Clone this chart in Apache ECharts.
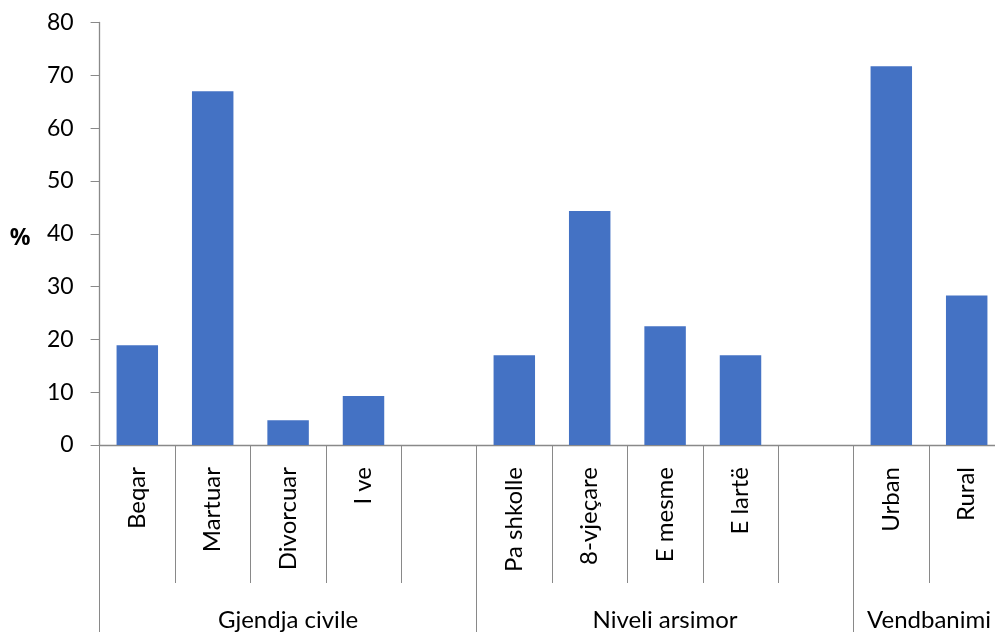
<!DOCTYPE html>
<html>
<head>
<meta charset="utf-8">
<script src="https://cdn.jsdelivr.net/npm/echarts@6/dist/echarts.min.js"></script>
<style>
  html, body { margin: 0; padding: 0; background: #ffffff; }
  #chart { width: 995px; height: 632px; }
</style>
</head>
<body>
<div id="chart"></div>
<script>
// Category slots (empty strings are spacer slots between groups)
const categories = ['Beqar', 'Martuar', 'Divorcuar', 'I ve', '',
                    'Pa shkolle', '8-vjeçare', 'E mesme', 'E lartë', '',
                    'Urban', 'Rural'];
// Share of respondents, %
const values = [18.9, 67.0, 4.7, 9.3, null,
                17.0, 44.3, 22.5, 17.0, null,
                71.7, 28.3];
// Outer grouping of the category slots
const groupNames = ['Gjendja civile', 'Niveli arsimor', 'Vendbanimi'];
const groupSizes = [5, 5, 2];
// Value axis ticks
const yMin = 0, yMax = 80, yStep = 10;

// Group axis runs on half-slot points: boundaries fall on even indices,
// group centres on (start + size / 2) * 2.
const halfSlots = [];
for (let i = 0; i <= categories.length * 2; i++) halfSlots.push('');
const groupTickIdx = new Set();
const groupLabelIdx = new Set();
let start = 0;
groupNames.forEach((name, g) => {
  groupTickIdx.add(start * 2);
  const c = start * 2 + groupSizes[g];
  halfSlots[c] = name;
  groupLabelIdx.add(c);
  start += groupSizes[g];
});
groupTickIdx.add(start * 2);

const axisGrey = '#898989';
const font = 'Lato, "Noto Sans", sans-serif';

const chart = echarts.init(document.getElementById('chart'), null, { renderer: 'canvas' });
chart.setOption({
  animation: false,
  backgroundColor: '#ffffff',
  grid: {
    left: 99.6, top: 22.5, width: 904.8, height: 422.5,
    containLabel: false, outerBoundsMode: 'none'
  },
  xAxis: [
    {
      type: 'category',
      data: categories,
      position: 'bottom',
      boundaryGap: true,
      axisLine: { show: true, lineStyle: { color: axisGrey, width: 1.3 } },
      axisTick: { show: true, interval: 0, length: 138, lineStyle: { color: axisGrey, width: 1 } },
      axisLabel: {
        interval: 0, rotate: 90, margin: 22,
        color: '#000000', fontFamily: font, fontSize: 24
      },
      splitLine: { show: false }
    },
    {
      type: 'category',
      data: halfSlots,
      position: 'bottom',
      boundaryGap: false,
      axisLine: { show: false },
      axisTick: {
        show: true, length: 200,
        interval: (i) => groupTickIdx.has(i),
        lineStyle: { color: axisGrey, width: 1 }
      },
      axisLabel: {
        show: true, margin: 163,
        interval: (i) => groupLabelIdx.has(i),
        color: '#000000', fontFamily: font, fontSize: 24
      },
      splitLine: { show: false }
    }
  ],
  yAxis: {
    type: 'value',
    min: yMin, max: yMax, interval: yStep,
    name: '%',
    nameLocation: 'middle',
    nameRotate: 0,
    nameGap: 69,
    nameTextStyle: {
      color: '#000000', fontFamily: '"Noto Sans", "DejaVu Sans", sans-serif',
      fontSize: 23, fontWeight: 'bold', verticalAlign: 'top', lineHeight: 10
    },
    axisLine: { show: true, lineStyle: { color: axisGrey, width: 1.3 } },
    axisTick: { show: true, length: 9, lineStyle: { color: axisGrey } },
    axisLabel: { margin: 26, color: '#000000', fontFamily: font, fontSize: 23 },
    splitLine: { show: false }
  },
  series: [{
    type: 'bar',
    xAxisIndex: 0,
    data: values,
    barWidth: '55%',
    itemStyle: { color: '#4472C4' }
  }]
});
</script>
</body>
</html>
